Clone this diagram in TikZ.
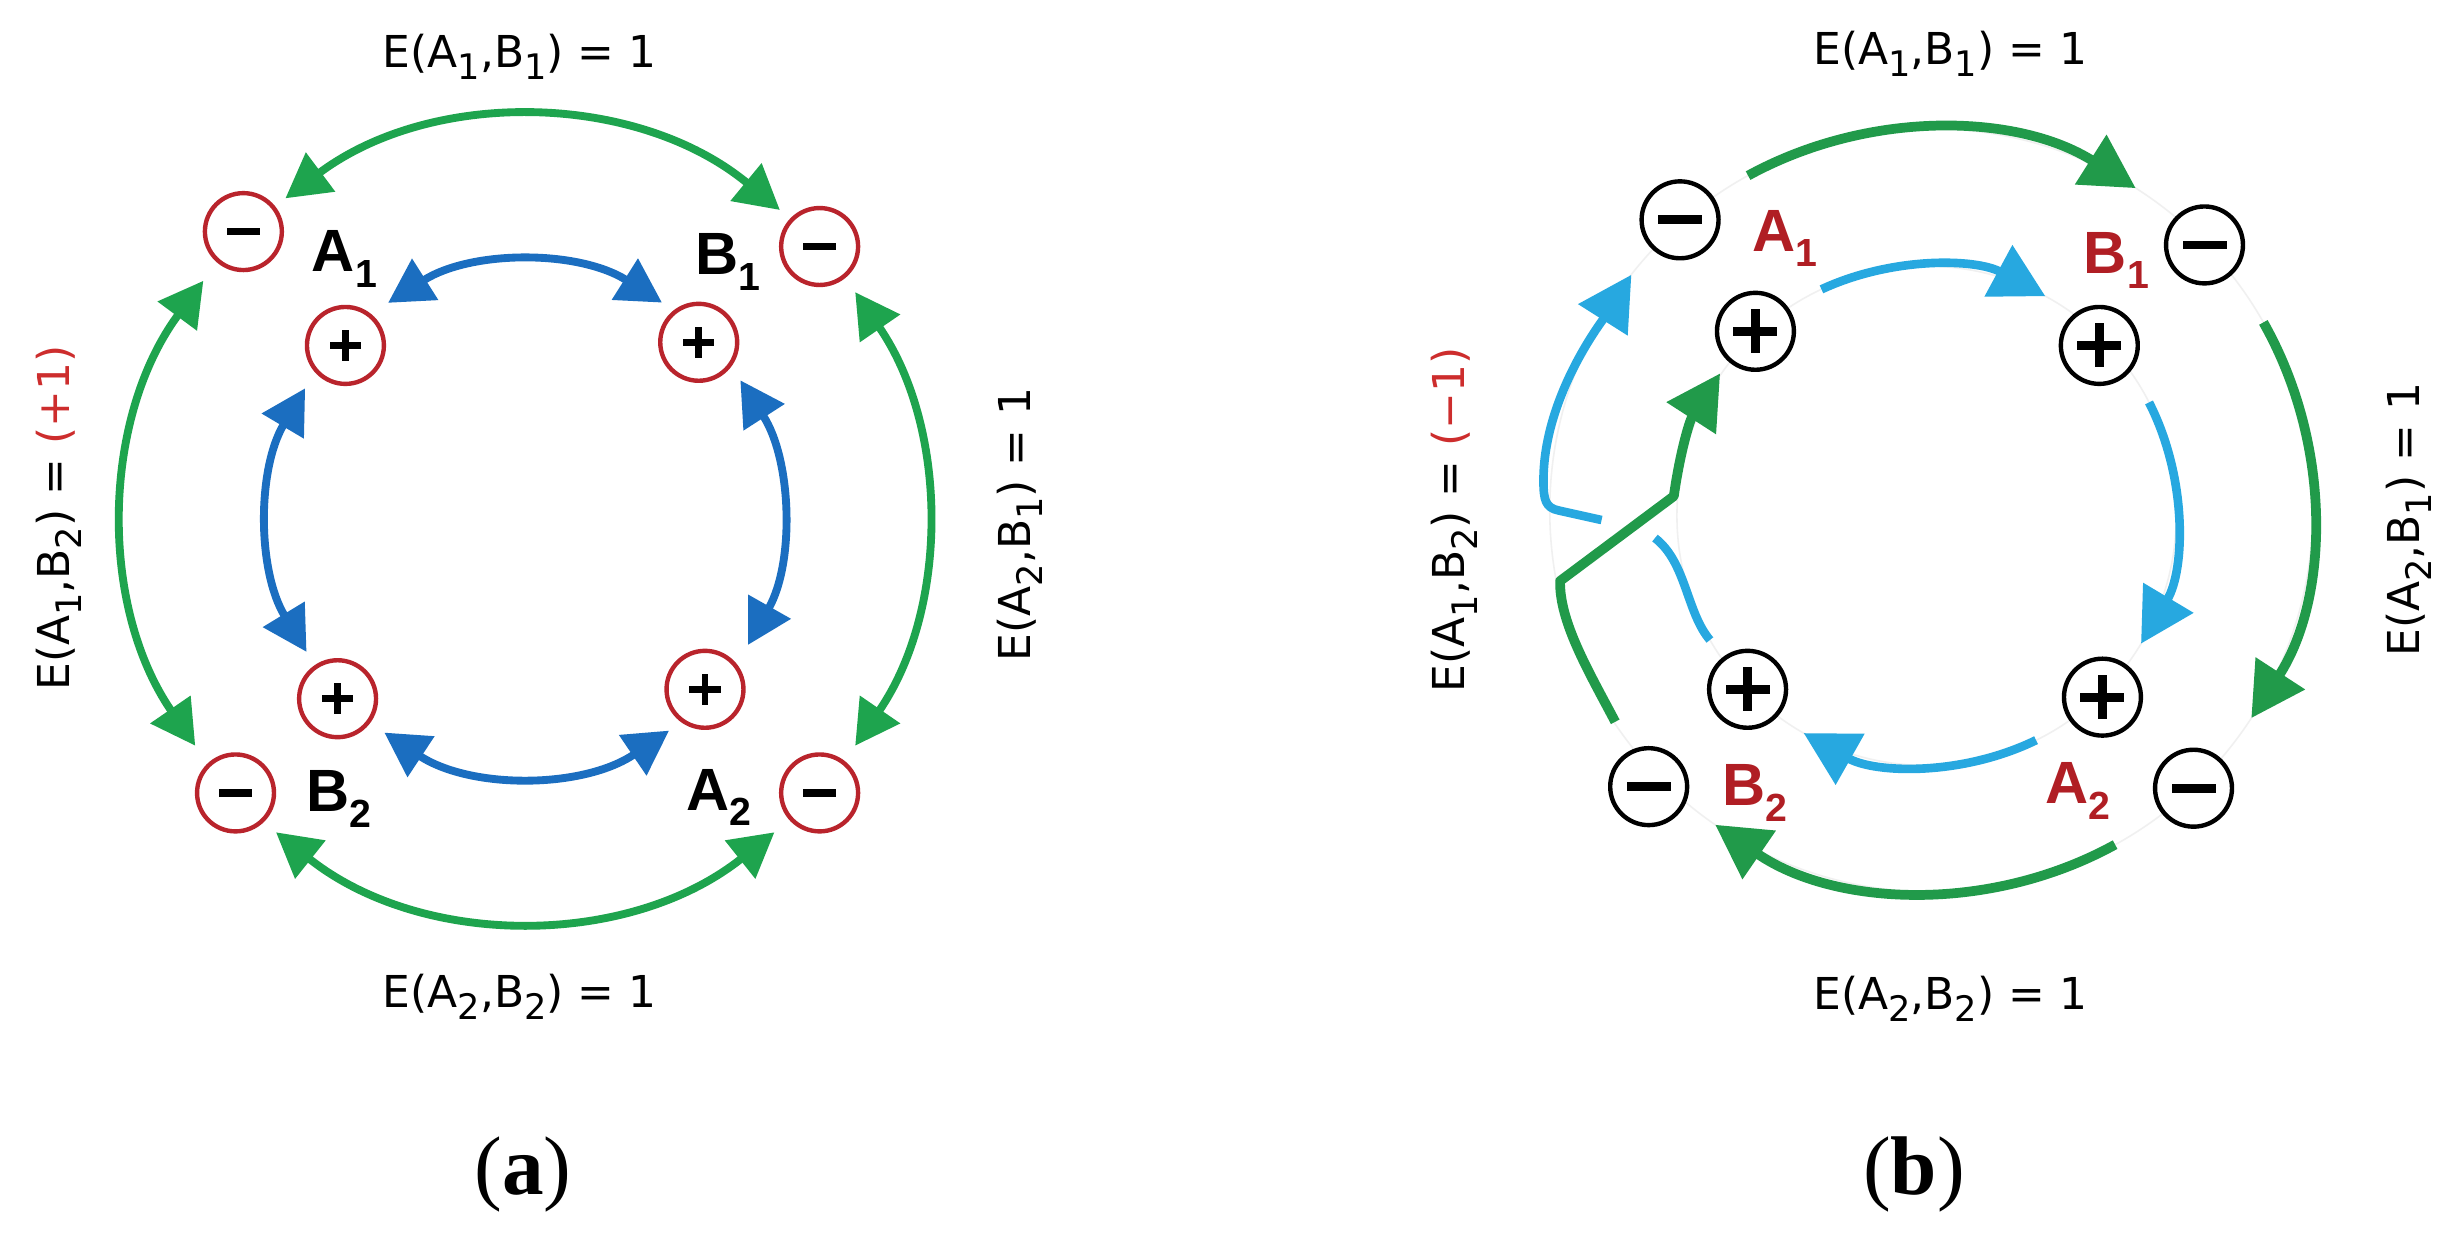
\documentclass[tikz,border=0pt]{standalone}
\usepackage{fontspec}
\usepackage{graphicx}
\usetikzlibrary{arrows.meta}
\newfontfamily\dejavu{DejaVu Sans}
\newfontfamily\libsans{Liberation Sans}
\newfontfamily\libserif{Liberation Serif}
\definecolor{gA}{RGB}{30,164,78}
\definecolor{bA}{RGB}{27,110,192}
\definecolor{rA}{RGB}{185,36,44}
\definecolor{gB}{RGB}{33,154,74}
\definecolor{bB}{RGB}{39,168,224}
\definecolor{rB}{RGB}{176,30,36}
\definecolor{rT}{RGB}{205,45,45}
\newcommand\esub[1]{\raisebox{-0.28em}{\scalebox{0.8}{#1}}}
\newcommand\lsub[1]{\raisebox{-10pt}{\fontsize{25}{25}\selectfont #1}}
\begin{document}
\begin{tikzpicture}[x=1pt,y=1pt,
  pmbase/.style={circle, minimum size=49pt, inner sep=0pt, outer sep=0pt, fill=white},
  circA/.style={pmbase, draw=rA, line width=2.8pt},
  circB/.style={pmbase, draw=black, line width=2.8pt},
  minusA/.style={circA, path picture={\fill[black] ([xshift=-10.5pt,yshift=-2.3pt]path picture bounding box.center) rectangle ++(21pt,4.6pt);}},
  plusA/.style={circA, path picture={\fill[black] ([xshift=-10pt,yshift=-2.2pt]path picture bounding box.center) rectangle ++(20pt,4.4pt); \fill[black] ([xshift=-2.2pt,yshift=-10pt]path picture bounding box.center) rectangle ++(4.4pt,20pt);}},
  minusB/.style={circB, path picture={\fill[black] ([xshift=-14pt,yshift=-2.8pt]path picture bounding box.center) rectangle ++(28pt,5.6pt);}},
  plusB/.style={circB, path picture={\fill[black] ([xshift=-14pt,yshift=-2.8pt]path picture bounding box.center) rectangle ++(28pt,5.6pt); \fill[black] ([xshift=-2.8pt,yshift=-14pt]path picture bounding box.center) rectangle ++(5.6pt,28pt);}},
  lblA/.style={font=\libsans\bfseries\fontsize{38}{40}\selectfont, inner sep=0pt, anchor=base west},
  lblB/.style={lblA, text=rB},
  elbl/.style={font=\dejavu\fontsize{28}{32}\selectfont, inner sep=0pt, anchor=base},
  capl/.style={font=\libserif\fontsize{53}{60}\selectfont, inner sep=0pt, anchor=base},
  arrAg/.style={line width=5pt, color=gA, arrows={Triangle[length=28pt,width=30pt]-Triangle[length=28pt,width=30pt]}},
  arrAb/.style={line width=5pt, color=bA, arrows={Triangle[length=28pt,width=30pt]-Triangle[length=28pt,width=30pt]}},
  arrBg/.style={line width=6.2pt, color=gB, arrows={-Triangle[length=34pt,width=36pt]}},
  arrBb/.style={line width=5.5pt, color=bB, arrows={-Triangle[length=34pt,width=36pt]}},
  lineBb/.style={line width=5.5pt, color=bB, line join=round},
  lineBg/.style={line width=6.2pt, color=gB, line join=round},
  faint/.style={draw=black!6, line width=1pt}
]
\useasboundingbox (0,0) rectangle (1568,788);
\fill[white] (0,0) rectangle (1568,788);

% ---------------- panel (a) ----------------
\coordinate (ca) at (334.5,457.5);
\node[minusA] (a1m) at (155,640.5) {};
\node[minusA] (b1m) at (522,631) {};
\node[minusA] (b2m) at (150,283) {};
\node[minusA] (a2m) at (522,283) {};
\node[plusA] (a1p) at (220,568) {};
\node[plusA] (b1p) at (445,570) {};
\node[plusA] (b2p) at (215,343) {};
\node[plusA] (a2p) at (449,349) {};

% green arcs (outer, A1- B1- B2- A2-)
\draw[arrAg] ([shift={(126.8:255pt)}]ca) arc[start angle=126.8, end angle=50.5, radius=255pt];
\draw[arrAg] ([shift={(143.5:255pt)}]ca) arc[start angle=143.5, end angle=214.5, radius=255pt];
\draw[arrAg] ([shift={(34.5:255pt)}]ca) arc[start angle=34.5, end angle=-34.5, radius=255pt];
\draw[arrAg] ([shift={(231.5:255pt)}]ca) arc[start angle=231.5, end angle=308.5, radius=255pt];

% blue arcs (inner, A1+ B1+ B2+ A2+)
\draw[arrAb] ([shift={(122.4:163pt)}]ca) arc[start angle=122.4, end angle=57.7, radius=163pt];
\draw[arrAb] ([shift={(149.3:163pt)}]ca) arc[start angle=149.3, end angle=211.3, radius=163pt];
\draw[arrAb] ([shift={(32.8:163pt)}]ca) arc[start angle=32.8, end angle=-29.5, radius=163pt];
\draw[arrAb] ([shift={(236.6:163pt)}]ca) arc[start angle=236.6, end angle=304.2, radius=163pt];

\node[lblA] (la1) at (198.5,615) {A\lsub{1}};
\node[lblA] (lb1) at (442.7,613) {B\lsub{1}};
\node[lblA] (lb2) at (195,271) {B\lsub{2}};
\node[lblA] (la2) at (436.7,272) {A\lsub{2}};

\node[elbl] (ea1) at (331,745) {E(A\esub{1},B\esub{1}) = 1};
\node[elbl] (ea2) at (331,146.5) {E(A\esub{2},B\esub{2}) = 1};
\node[elbl, rotate=90] (ea3) at (44,458) {E(A\esub{1},B\esub{2}) = \textcolor{rT}{(+1)}};
\node[elbl, rotate=90] (ea4) at (656,454) {E(A\esub{2},B\esub{1}) = 1};

\node[capl] (capa) at (333,27) {(\textbf{a})};

% ---------------- panel (b) ----------------
\coordinate (cbo) at (1230,463);
\coordinate (cbi) at (1227,459.5);
\draw[faint] (cbo) circle (243pt);
\draw[faint] (cbi) circle (159pt);

\node[minusB] (a1mb) at (1070,648) {};
\node[minusB] (b1mb) at (1404,632) {};
\node[minusB] (b2mb) at (1050,287) {};
\node[minusB] (a2mb) at (1397,286) {};
\node[plusB] (a1pb) at (1118,577) {};
\node[plusB] (b1pb) at (1337,568) {};
\node[plusB] (b2pb) at (1113,349) {};
\node[plusB] (a2pb) at (1339,344) {};

% green arcs (outer)
\draw[arrBg] ([shift={(118.7:243pt)}]cbo) arc[start angle=118.7, end angle=57.6, radius=243pt];
\draw[arrBg] ([shift={(29.5:243pt)}]cbo) arc[start angle=29.5, end angle=-33, radius=243pt];
\draw[arrBg] ([shift={(-61.2:243pt)}]cbo) arc[start angle=-61.2, end angle=-124.5, radius=243pt];
% blue arcs (inner)
\draw[arrBb] ([shift={(114.9:159pt)}]cbi) arc[start angle=114.9, end angle=61.6, radius=159pt];
\draw[arrBb] ([shift={(27:159pt)}]cbi) arc[start angle=27, end angle=-30.8, radius=159pt];
\draw[arrBb] ([shift={(-64:159pt)}]cbi) arc[start angle=-64, end angle=-119.5, radius=159pt];

% blue crossing path B2+ -> A1-
\coordinate (bl1) at (1089,380.4);
\coordinate (bl2) at (1054,445.3);
\coordinate (bl3) at (1020,456.8);
\coordinate (bl4) at (993,462.8);
\coordinate (bl5) at (983,482);
\coordinate (bl6) at (1039,613);
\draw[lineBb] (bl1) .. controls (1074,398) and (1074,430) .. (bl2);
\draw[lineBb, arrows={-Triangle[length=34pt,width=36pt]}] (bl3) -- (bl4) .. controls (984,464.5) and (983,470) .. (bl5) .. controls (983,535) and (1020,583) .. (bl6);

% green crossing path B2- -> A1+
\coordinate (gl1) at (1028.7,328.3);
\coordinate (gl2) at (993.6,418);
\coordinate (gl3) at (1066,472);
\coordinate (gl4) at (1095.5,550.2);
\draw[lineBg, arrows={-Triangle[length=34pt,width=36pt]}] (gl1) .. controls (1012,360) and (993,392) .. (gl2) -- (gl3) .. controls (1070,500) and (1076,520) .. (gl4);

\node[lblB] (la1b) at (1116,628) {A\lsub{1}};
\node[lblB] (lb1b) at (1327,614) {B\lsub{1}};
\node[lblB] (lb2b) at (1096.6,275) {B\lsub{2}};
\node[lblB] (la2b) at (1302.5,276) {A\lsub{2}};

\node[elbl] (eb1) at (1242,747) {E(A\esub{1},B\esub{1}) = 1};
\node[elbl] (eb2) at (1242,145.3) {E(A\esub{2},B\esub{2}) = 1};
\node[elbl, rotate=90] (eb3) at (933,457) {E(A\esub{1},B\esub{2}) = \textcolor{rT}{(−1)}};
\node[elbl, rotate=90] (eb4) at (1541,457) {E(A\esub{2},B\esub{1}) = 1};

\node[capl] (capb) at (1219,27) {(\textbf{b})};
\end{tikzpicture}
\end{document}
